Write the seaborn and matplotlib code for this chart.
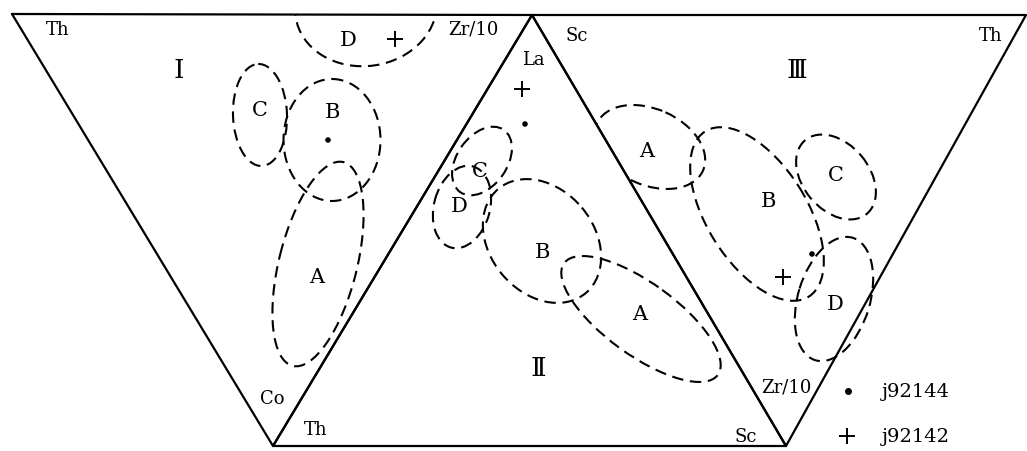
"""
Th-Co-Zr/10, La-Th-Sc and Sc-Th-Zr/10 discrimination triangles
"""
import matplotlib
matplotlib.use("Agg")
import matplotlib.pyplot as plt
from matplotlib.patches import Ellipse, Polygon
import seaborn as sns
import pandas as pd

# triangle vertices (pixel-like data coordinates, y pointing down)
tri_names = ["Ⅰ", "Ⅱ", "Ⅲ"]
tri_x = [[12, 532, 273], [532, 273, 786], [532, 1026, 786]]
tri_y = [[15, 16, 447], [16, 447, 447], [16, 16, 447]]

# dashed fields: triangle, label, centre, axes, tilt
field_tri = [0, 0, 0, 0, 1, 1, 1, 1, 2, 2, 2, 2]
field_clip = [True] * 11 + [False]
field_lab = ["D", "C", "B", "A", "C", "D", "B", "A", "A", "B", "C", "D"]
field_cx = [366, 260, 332, 318, 482, 462, 542, 641, 650, 757, 836, 834]
field_cy = [8, 116, 141, 265, 162, 208, 242, 320, 148, 215, 178, 300]
field_w = [142, 54, 97, 210, 76, 84, 136, 190, 116, 195, 96, 128]
field_h = [118, 102, 122, 78, 50, 56, 104, 72, 76, 100, 66, 72]
field_ang = [-8, -2, 0, -76, -55, -75, 50, 36, 24, 58, 50, -73]
label_x = [348, 260, 332, 317, 480, 459, 542, 640, 647, 768, 836, 835]
label_y = [40, 110, 112, 278, 172, 207, 252, 315, 152, 202, 176, 305]

# apex labels
apex_txt = ["Th", "Zr/10", "Co", "La", "Th", "Sc", "Sc", "Th", "Zr/10"]
apex_x = [58, 473, 272, 533, 316, 577, 746, 991, 786]
apex_y = [30, 30, 399, 60, 430, 36, 437, 36, 388]
roman_x = [179, 538, 797]
roman_y = [70, 369, 71]

# samples
sample_name = ["j92144", "j92142"]
sample_marker = ["o", "+"]
sample_pts = {
    "j92144": ([328, 525, 812], [141, 125, 255]),
    "j92142": ([395, 522, 783], [40, 90, 278]),
}
legend_y = [392, 437]

sns.set_style("white")
plt.rcParams["font.family"] = ["DejaVu Serif", "DejaVu Sans"]
plt.rcParams["text.color"] = "black"

fig = plt.figure(figsize=(10.27, 4.52), dpi=100)
ax = fig.add_axes([0, 0, 1, 1])

clips = []
for i in range(3):
    df = pd.DataFrame({"x": tri_x[i] + tri_x[i][:1], "y": tri_y[i] + tri_y[i][:1]})
    sns.lineplot(data=df, x="x", y="y", sort=False, estimator=None,
                 color="black", lw=1.6, ax=ax)
    poly = Polygon(list(zip(tri_x[i], tri_y[i])), closed=True,
                   fill=False, lw=0, transform=ax.transData)
    ax.add_patch(poly)
    clips.append(poly)

for k in range(len(field_lab)):
    e = Ellipse((field_cx[k], field_cy[k]), field_w[k], field_h[k],
                angle=field_ang[k], fill=False, ec="black", lw=1.5,
                ls=(0, (5.5, 3.2)))
    ax.add_patch(e)
    if field_clip[k]:
        e.set_clip_path(clips[field_tri[k]])
    ax.text(label_x[k], label_y[k], field_lab[k], ha="center", va="center",
            fontsize=15)

for t, x, y in zip(apex_txt, apex_x, apex_y):
    ax.text(x, y, t, ha="center", va="center", fontsize=13)
for t, x, y in zip(tri_names, roman_x, roman_y):
    ax.text(x, y, t, ha="center", va="center", fontsize=19)

for name, m in zip(sample_name, sample_marker):
    xs, ys = sample_pts[name]
    df = pd.DataFrame({"x": xs, "y": ys})
    if m == "o":
        sns.scatterplot(data=df, x="x", y="y", marker="o", s=16,
                        color="black", edgecolor="none", ax=ax)
    else:
        sns.scatterplot(data=df, x="x", y="y", marker="+", s=120,
                        color="black", linewidth=1.4, ax=ax)

for name, m, y in zip(sample_name, sample_marker, legend_y):
    if m == "o":
        ax.scatter([848], [y], marker="o", s=16, color="black")
    else:
        ax.scatter([847], [y], marker="+", s=120, color="black", linewidths=1.4)
    ax.text(882, y, name, ha="left", va="center", fontsize=14)

ax.set_xlim(0, 1027)
ax.set_ylim(452, 0)
ax.axis("off")
fig.savefig("out.png", dpi=100)
